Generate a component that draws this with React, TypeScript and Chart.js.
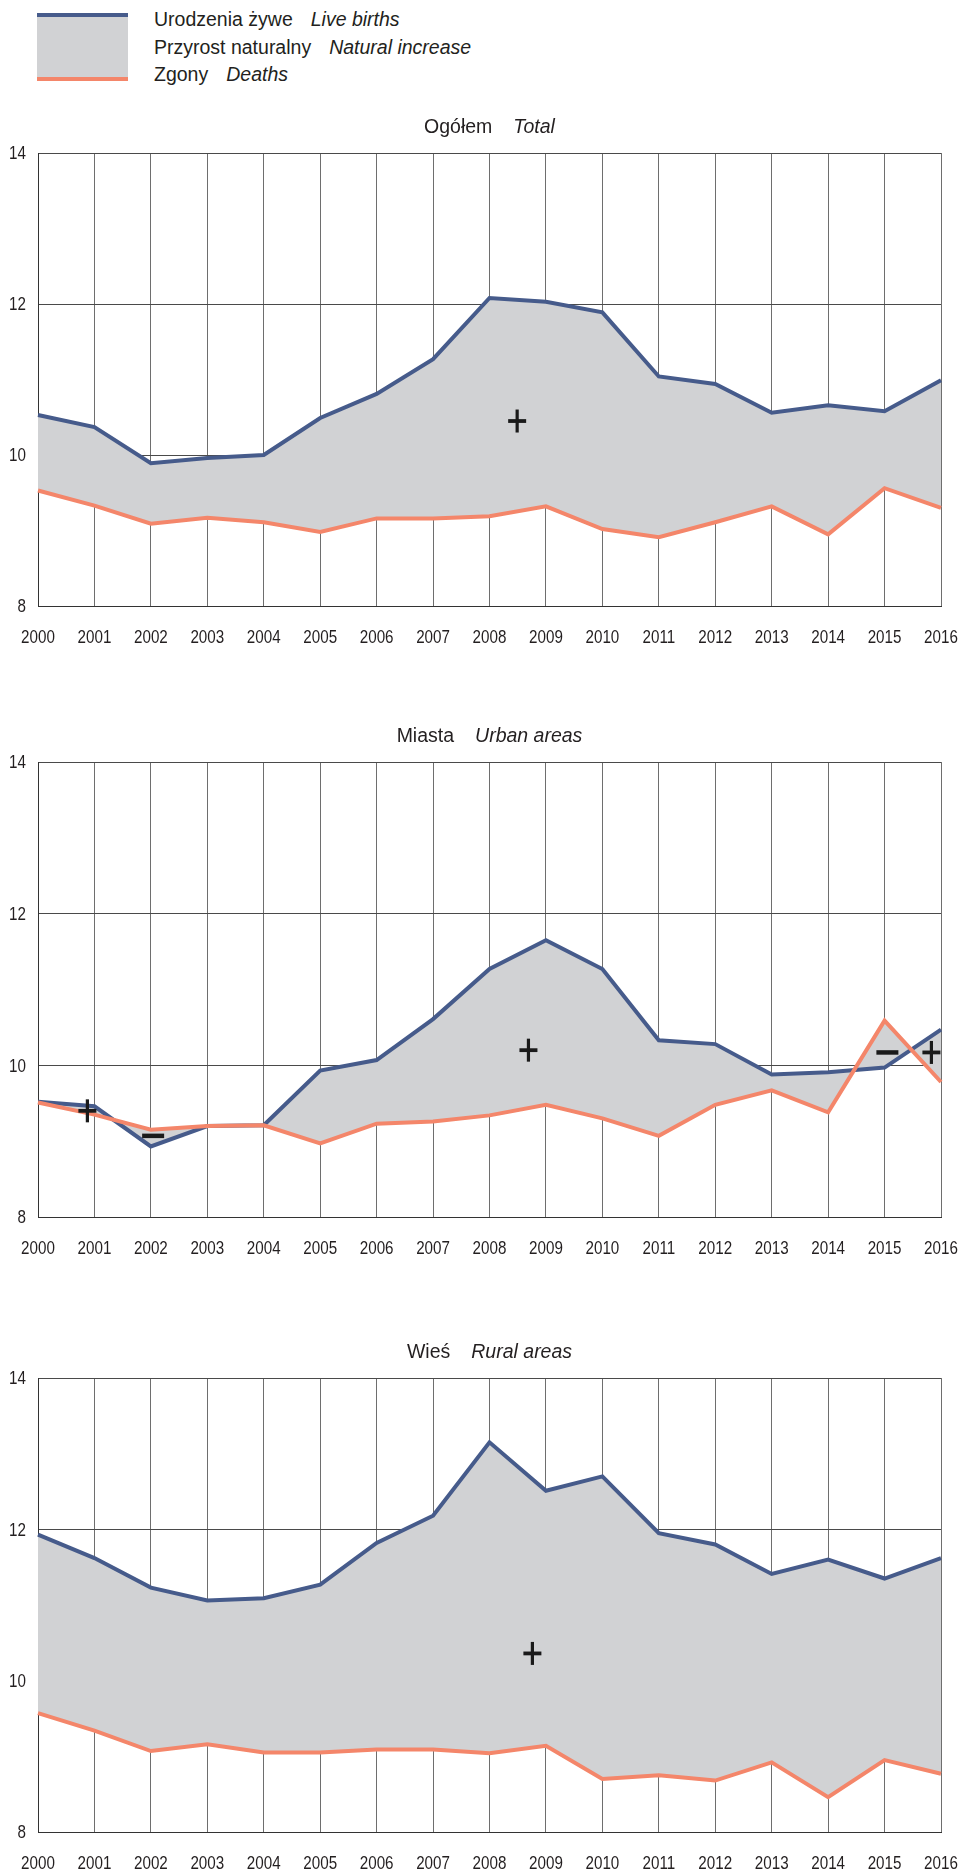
import React, { useEffect, useRef } from "react";
import { Chart, registerables } from "chart.js";

Chart.register(...registerables);

const years = ["2000", "2001", "2002", "2003", "2004", "2005", "2006", "2007", "2008", "2009", "2010", "2011", "2012", "2013", "2014", "2015", "2016"];
const yTicks = [8, 10, 12, 14];

const totalBirths = [10.53, 10.37, 9.89, 9.96, 10.0, 10.49, 10.81, 11.27, 12.08, 12.03, 11.89, 11.04, 10.94, 10.56, 10.66, 10.58, 10.99];
const totalDeaths = [9.53, 9.33, 9.09, 9.17, 9.11, 8.98, 9.16, 9.16, 9.19, 9.32, 9.02, 8.91, 9.11, 9.32, 8.95, 9.56, 9.3];

const urbanBirths = [9.52, 9.46, 8.93, 9.2, 9.21, 9.93, 10.07, 10.61, 11.27, 11.65, 11.27, 10.33, 10.28, 9.88, 9.91, 9.97, 10.47];
const urbanDeaths = [9.51, 9.35, 9.15, 9.2, 9.21, 8.97, 9.23, 9.26, 9.34, 9.48, 9.3, 9.07, 9.48, 9.67, 9.38, 10.59, 9.78];

const ruralBirths = [11.93, 11.62, 11.23, 11.06, 11.09, 11.27, 11.82, 12.18, 13.15, 12.51, 12.7, 11.95, 11.8, 11.41, 11.6, 11.35, 11.62];
const ruralDeaths = [9.57, 9.34, 9.07, 9.16, 9.05, 9.05, 9.09, 9.09, 9.04, 9.14, 8.7, 8.75, 8.68, 8.92, 8.46, 8.95, 8.77];

// sign annotations: x = fractional category index, y = value
const totalSigns = [{ x: 8.49, y: 10.45, sign: "+" }];
const urbanSigns = [
  { x: 0.875, y: 9.4, sign: "+" },
  { x: 2.04, y: 9.07, sign: "-" },
  { x: 8.69, y: 10.2, sign: "+" },
  { x: 15.05, y: 10.17, sign: "-" },
  { x: 15.83, y: 10.17, sign: "+" },
];
const ruralSigns = [{ x: 8.76, y: 10.36, sign: "+" }];

const BLUE = "#465b8b";
const SALMON = "#f4866a";
const GRAY = "#d1d2d4";
const TEXT = "#231f20";
const SANS = '"Liberation Sans", Arial, Helvetica, sans-serif';

type Sign = { x: number; y: number; sign: string };

function makeTitlePlugin(a: string, b: string) {
  return {
    id: "panelTitle",
    afterDraw(chart: any) {
      const { ctx, chartArea } = chart;
      ctx.save();
      ctx.fillStyle = TEXT;
      ctx.textBaseline = "alphabetic";
      ctx.textAlign = "left";
      ctx.font = `19.5px ${SANS}`;
      const wA = ctx.measureText(a).width;
      ctx.font = `italic 19.5px ${SANS}`;
      const wB = ctx.measureText(b).width;
      const gap = 21;
      const total = wA + gap + wB;
      const x0 = (chartArea.left + chartArea.right) / 2 - total / 2;
      const yb = chartArea.top - 20;
      ctx.font = `19.5px ${SANS}`;
      ctx.fillText(a, x0, yb);
      ctx.font = `italic 19.5px ${SANS}`;
      ctx.fillText(b, x0 + wA + gap, yb);
      ctx.restore();
    },
  };
}

// condensed tick labels (the original uses a narrow face)
const tickLabelPlugin = {
  id: "tickLabels",
  afterDraw(chart: any) {
    const { ctx, chartArea } = chart;
    const xs = chart.scales.x;
    const ys = chart.scales.y;
    ctx.save();
    ctx.fillStyle = TEXT;
    ctx.font = `19px ${SANS}`;
    ctx.textBaseline = "middle";
    ctx.textAlign = "center";
    years.forEach((lab, i) => {
      const px = xs.getPixelForValue(i);
      ctx.save();
      ctx.translate(px, chartArea.bottom + 32);
      ctx.scale(0.8, 1);
      ctx.fillText(lab, 0, 0);
      ctx.restore();
    });
    ctx.textAlign = "right";
    yTicks.forEach((v) => {
      const py = ys.getPixelForValue(v);
      ctx.save();
      ctx.translate(chartArea.left - 12, py + 1);
      ctx.scale(0.8, 1);
      ctx.fillText(String(v), 0, 0);
      ctx.restore();
    });
    ctx.restore();
  },
};

function makeSignPlugin(signs: Sign[]) {
  return {
    id: "signs",
    afterDatasetsDraw(chart: any) {
      const { ctx } = chart;
      const xs = chart.scales.x;
      const ys = chart.scales.y;
      ctx.save();
      ctx.strokeStyle = "#1a1a1a";
      ctx.lineCap = "butt";
      signs.forEach((s) => {
        const px = xs.getPixelForValue(s.x);
        const py = ys.getPixelForValue(s.y);
        if (s.sign === "+") {
          ctx.lineWidth = 3.8;
          ctx.beginPath();
          ctx.moveTo(px - 9, py);
          ctx.lineTo(px + 9, py);
          ctx.stroke();
          ctx.lineWidth = 3.2;
          ctx.beginPath();
          ctx.moveTo(px, py - 11.5);
          ctx.lineTo(px, py + 11.5);
          ctx.stroke();
        } else {
          ctx.lineWidth = 4.5;
          ctx.beginPath();
          ctx.moveTo(px - 11, py);
          ctx.lineTo(px + 11, py);
          ctx.stroke();
        }
      });
      ctx.restore();
    },
  };
}

type PanelProps = {
  top: number;
  padTop: number;
  plotH: number;
  axisH: number;
  births: number[];
  deaths: number[];
  signs: Sign[];
  titleA: string;
  titleB: string;
};

function Panel({ top, padTop, plotH, axisH, births, deaths, signs, titleA, titleB }: PanelProps) {
  const ref = useRef<HTMLCanvasElement>(null);
  const height = padTop + plotH + axisH;
  useEffect(() => {
    if (!ref.current) return;
    const chart = new Chart(ref.current, {
      type: "line",
      data: {
        labels: years,
        datasets: [
          {
            data: deaths,
            borderColor: SALMON,
            borderWidth: 4,
            fill: false,
            pointRadius: 0,
            tension: 0,
            borderJoinStyle: "miter",
          },
          {
            data: births,
            borderColor: BLUE,
            borderWidth: 4,
            fill: "-1",
            backgroundColor: GRAY,
            pointRadius: 0,
            tension: 0,
            borderJoinStyle: "miter",
          },
        ],
      },
      options: {
        animation: false,
        responsive: false,
        devicePixelRatio: 1,
        layout: { padding: { top: padTop, right: 22, left: 0, bottom: 0 } },
        plugins: {
          legend: { display: false },
          tooltip: { enabled: false },
          title: { display: false },
        },
        scales: {
          x: {
            type: "category",
            offset: false,
            grid: { color: "#6e6e6e", lineWidth: 1, drawTicks: false, offset: false },
            border: { color: "#333333", width: 1 },
            ticks: { display: false, autoSkip: false, maxRotation: 0 },
            afterFit: (s: any) => {
              s.height = axisH;
            },
          },
          y: {
            min: yTicks[0],
            max: yTicks[yTicks.length - 1],
            grid: { color: "#4a4a4a", lineWidth: 1, drawTicks: false },
            border: { color: "#333333", width: 1 },
            ticks: { display: false, stepSize: yTicks[1] - yTicks[0] },
            afterFit: (s: any) => {
              s.width = 38;
            },
          },
        },
      } as any,
      plugins: [makeSignPlugin(signs), makeTitlePlugin(titleA, titleB), tickLabelPlugin],
    });
    return () => chart.destroy();
  }, []);
  return (
    <canvas
      ref={ref}
      width={963}
      height={height}
      style={{ position: "absolute", left: 0, top, width: 963, height, display: "block" }}
    />
  );
}

function Legend() {
  const line = (a: string, b: string) => (
    <div style={{ whiteSpace: "pre" }}>
      <span>{a}</span>
      <span style={{ fontStyle: "italic", marginLeft: 18 }}>{b}</span>
    </div>
  );
  return (
    <>
      <div
        style={{
          position: "absolute",
          left: 37,
          top: 12.7,
          width: 91,
          height: 68.3,
          boxSizing: "border-box",
          background: GRAY,
          borderTop: `4px solid ${BLUE}`,
          borderBottom: `4px solid ${SALMON}`,
        }}
      />
      <div
        style={{
          position: "absolute",
          left: 154,
          top: 6.2,
          fontFamily: SANS,
          fontSize: "19.5px",
          lineHeight: "27.5px",
          color: TEXT,
        }}
      >
        {line("Urodzenia żywe", "Live births")}
        {line("Przyrost naturalny", "Natural increase")}
        {line("Zgony", "Deaths")}
      </div>
    </>
  );
}

export default function App() {
  return (
    <div
      style={{
        position: "absolute",
        left: 0,
        top: 0,
        width: 963,
        height: 1874,
        overflow: "hidden",
        background: "#ffffff",
      }}
    >
      <Legend />
      <Panel top={100} padTop={53} plotH={453} axisH={54} births={totalBirths} deaths={totalDeaths} signs={totalSigns} titleA="Ogółem" titleB="Total" />
      <Panel top={710} padTop={52} plotH={455} axisH={54} births={urbanBirths} deaths={urbanDeaths} signs={urbanSigns} titleA="Miasta" titleB="Urban areas" />
      <Panel top={1326} padTop={52} plotH={454} axisH={48} births={ruralBirths} deaths={ruralDeaths} signs={ruralSigns} titleA="Wieś" titleB="Rural areas" />
    </div>
  );
}
